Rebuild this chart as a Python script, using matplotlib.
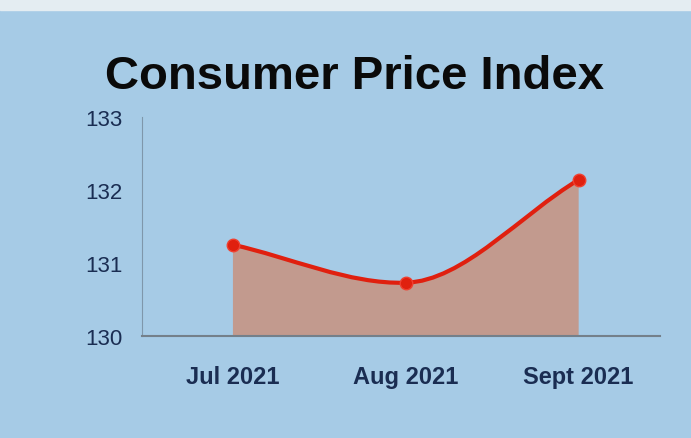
import numpy as np
import matplotlib.pyplot as plt
from matplotlib.path import Path
from matplotlib.patches import PathPatch, Rectangle

# datos
meses = ["Jul 2021", "Aug 2021", "Sept 2021"]
cpi = [131.25, 130.73, 132.14]
yticks = [130, 131, 132, 133]

x = np.arange(len(meses))
y = np.array(cpi)

# curva suave (bezier) que pasa por los puntos
def bezier_path(x, y, base=None, tension=0.15):
    n = len(x)
    m = np.zeros(n)
    m[0] = (y[1] - y[0]) / (x[1] - x[0])
    m[-1] = (y[-1] - y[-2]) / (x[-1] - x[-2])
    for i in range(1, n - 1):
        m[i] = (y[i + 1] - y[i - 1]) / (x[i + 1] - x[i - 1]) * tension
    verts = []
    codes = []
    if base is not None:
        verts.append((x[0], base)); codes.append(Path.MOVETO)
        verts.append((x[0], y[0])); codes.append(Path.LINETO)
    else:
        verts.append((x[0], y[0])); codes.append(Path.MOVETO)
    for i in range(n - 1):
        h = (x[i + 1] - x[i]) / 3
        verts += [(x[i] + h, y[i] + m[i] * h), (x[i + 1] - h, y[i + 1] - m[i + 1] * h), (x[i + 1], y[i + 1])]
        codes += [Path.CURVE4] * 3
    if base is not None:
        verts.append((x[-1], base)); codes.append(Path.LINETO)
        verts.append((x[0], base)); codes.append(Path.CLOSEPOLY)
    return Path(verts, codes)

fondo = "#a6cbe6"
txt = "#1a2d52"
fig = plt.figure(figsize=(6.91, 4.39), dpi=100, facecolor=fondo)
# borde superior claro (foto)
fig.patches.append(Rectangle((0, 0.975), 1, 0.025, transform=fig.transFigure, color="#e4edf2", zorder=0))

ax = fig.add_axes([0.2055, 0.2323, 0.7495, 0.4989])
ax.set_facecolor(fondo)

ax.add_patch(PathPatch(bezier_path(x, y, base=130), facecolor="#c29a8e", edgecolor="none", zorder=2))
ax.add_patch(PathPatch(bezier_path(x, y), facecolor="none", edgecolor="#e0200f", lw=3, zorder=3))
ax.plot(x, y, "o", color="#e0200f", markersize=9, markeredgecolor="#f04030", zorder=4)

ax.set_xlim(-0.526, 2.47)
ax.set_ylim(130, 133)
ax.set_xticks(x)
ax.set_xticklabels(meses, fontsize=17, fontweight="bold", color=txt, family="Liberation Sans")
ax.set_yticks(yticks)
ax.set_yticklabels([str(v) for v in yticks], fontsize=16, color=txt, family="Liberation Sans")
ax.tick_params(axis="x", length=0, pad=21)
ax.tick_params(axis="y", length=0, pad=14)
for s in ["top", "right"]:
    ax.spines[s].set_visible(False)
ax.spines["left"].set_color("#7f97ab")
ax.spines["left"].set_linewidth(0.8)
ax.spines["bottom"].set_color("#74808a")
ax.spines["bottom"].set_linewidth(1.5)

fig.text(0.513, 0.825, "Consumer Price Index", ha="center", va="center", fontsize=34,
         fontweight="bold", family="Liberation Sans", color="#0a0a0a")

fig.savefig("out.png", dpi=100, facecolor=fondo)
